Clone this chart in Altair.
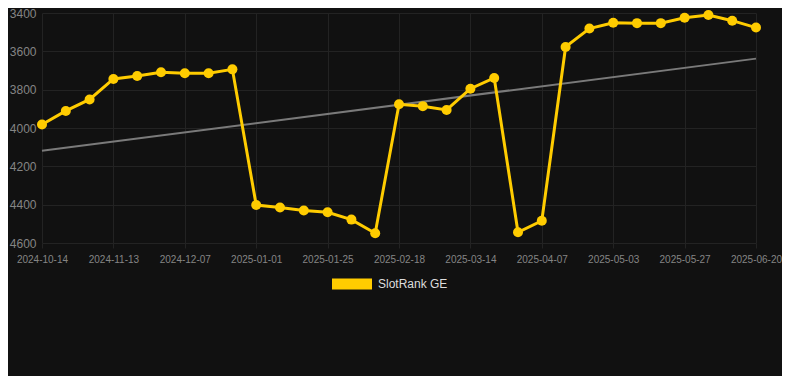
import altair as alt
import pandas as pd

dates = [
    "2024-10-14", "2024-10-24", "2024-11-03", "2024-11-13", "2024-11-21",
    "2024-11-29", "2024-12-07", "2024-12-15", "2024-12-23", "2025-01-01",
    "2025-01-09", "2025-01-17", "2025-01-25", "2025-02-02", "2025-02-10",
    "2025-02-18", "2025-02-26", "2025-03-06", "2025-03-14", "2025-03-22",
    "2025-03-30", "2025-04-07", "2025-04-15", "2025-04-24", "2025-05-03",
    "2025-05-11", "2025-05-19", "2025-05-27", "2025-06-04", "2025-06-12",
    "2025-06-20",
]
ranks = [
    3982, 3911, 3851, 3744, 3729, 3709, 3714, 3714, 3694, 4402,
    4415, 4430, 4440, 4478, 4549, 3876, 3886, 3906, 3795, 3739,
    4544, 4484, 3577, 3481, 3451, 3453, 3453, 3425, 3410, 3440,
    3476,
]
tick_labels = [
    "2024-10-14", "2024-11-13", "2024-12-07", "2025-01-01", "2025-01-25",
    "2025-02-18", "2025-03-14", "2025-04-07", "2025-05-03", "2025-05-27",
    "2025-06-20",
]
trend_dates = ["2024-10-14", "2025-06-20"]
trend_values = [4119, 3638]
y_ticks = [3400, 3600, 3800, 4000, 4200, 4400, 4600]
series_name = "SlotRank GE"

# category position of each date (point-category axis)
df = pd.DataFrame({
    "date": dates,
    "pos": list(range(len(dates))),
    "rank": ranks,
    "series": series_name,
})
trend_df = pd.DataFrame({
    "date": trend_dates,
    "pos": [dates.index(d) for d in trend_dates],
    "rank": trend_values,
})
tick_positions = [dates.index(d) for d in tick_labels]
label_expr = "[" + ",".join("'%s'" % d for d in dates) + "][datum.value]"

YELLOW = "#FFCC00"
FONT = "Liberation Sans"

x_scale = alt.Scale(domain=[0, len(dates) - 1], range=[2, 716], nice=False, zero=False)
x_axis = alt.Axis(
    values=tick_positions, labelExpr=label_expr, labelAngle=0, labelFontSize=10,
    labelColor="#858585", labelFont=FONT, grid=True, gridColor="#232323",
    tickColor="#232323", tickSize=5, domain=False, labelPadding=6, title=None,
    labelFlush=False, labelOverlap=False,
)
y_scale = alt.Scale(domain=[3400, 4600], reverse=True, nice=False, zero=False)
y_axis = alt.Axis(
    values=y_ticks, format="d", labelFontSize=12, labelColor="#858585", labelFont=FONT,
    grid=True, gridColor="#232323", ticks=False, domain=False,
    labelPadding=4, title=None,
)

trend = alt.Chart(trend_df).mark_line(color="#7a7a7a", strokeWidth=2).encode(
    x=alt.X("pos:Q", scale=x_scale, axis=x_axis),
    y=alt.Y("rank:Q", scale=y_scale, axis=y_axis),
)

line = alt.Chart(df).mark_line(strokeWidth=3).encode(
    x=alt.X("pos:Q", scale=x_scale, axis=x_axis),
    y=alt.Y("rank:Q", scale=y_scale, axis=y_axis),
    color=alt.Color(
        "series:N",
        scale=alt.Scale(domain=[series_name], range=[YELLOW]),
        legend=alt.Legend(
            orient="none", legendX=292, legendY=251, title=None,
            symbolType="M-1,-0.275L1,-0.275L1,0.275L-1,0.275Z",
            symbolSize=1600, symbolStrokeWidth=0, symbolOpacity=1,
            labelFontSize=12, labelColor="#dddddd", labelFont=FONT,
            labelOffset=6, padding=0,
        ),
    ),
)

points = alt.Chart(df).mark_point(filled=True, size=100, opacity=1).encode(
    x=alt.X("pos:Q", scale=x_scale, axis=x_axis),
    y=alt.Y("rank:Q", scale=y_scale, axis=y_axis),
    color=alt.Color("series:N", scale=alt.Scale(domain=[series_name], range=[YELLOW]), legend=None),
)

chart = (
    alt.layer(trend, line, points)
    .properties(
        width=742, height=230,
        autosize=alt.AutoSizeParams(type="none"),
        padding={"left": 32, "top": 5, "right": 0, "bottom": 133},
        background="#111111",
    )
    .configure_view(stroke=None)
)

chart.save("out.html", embed_options={"renderer": "svg", "actions": False})
